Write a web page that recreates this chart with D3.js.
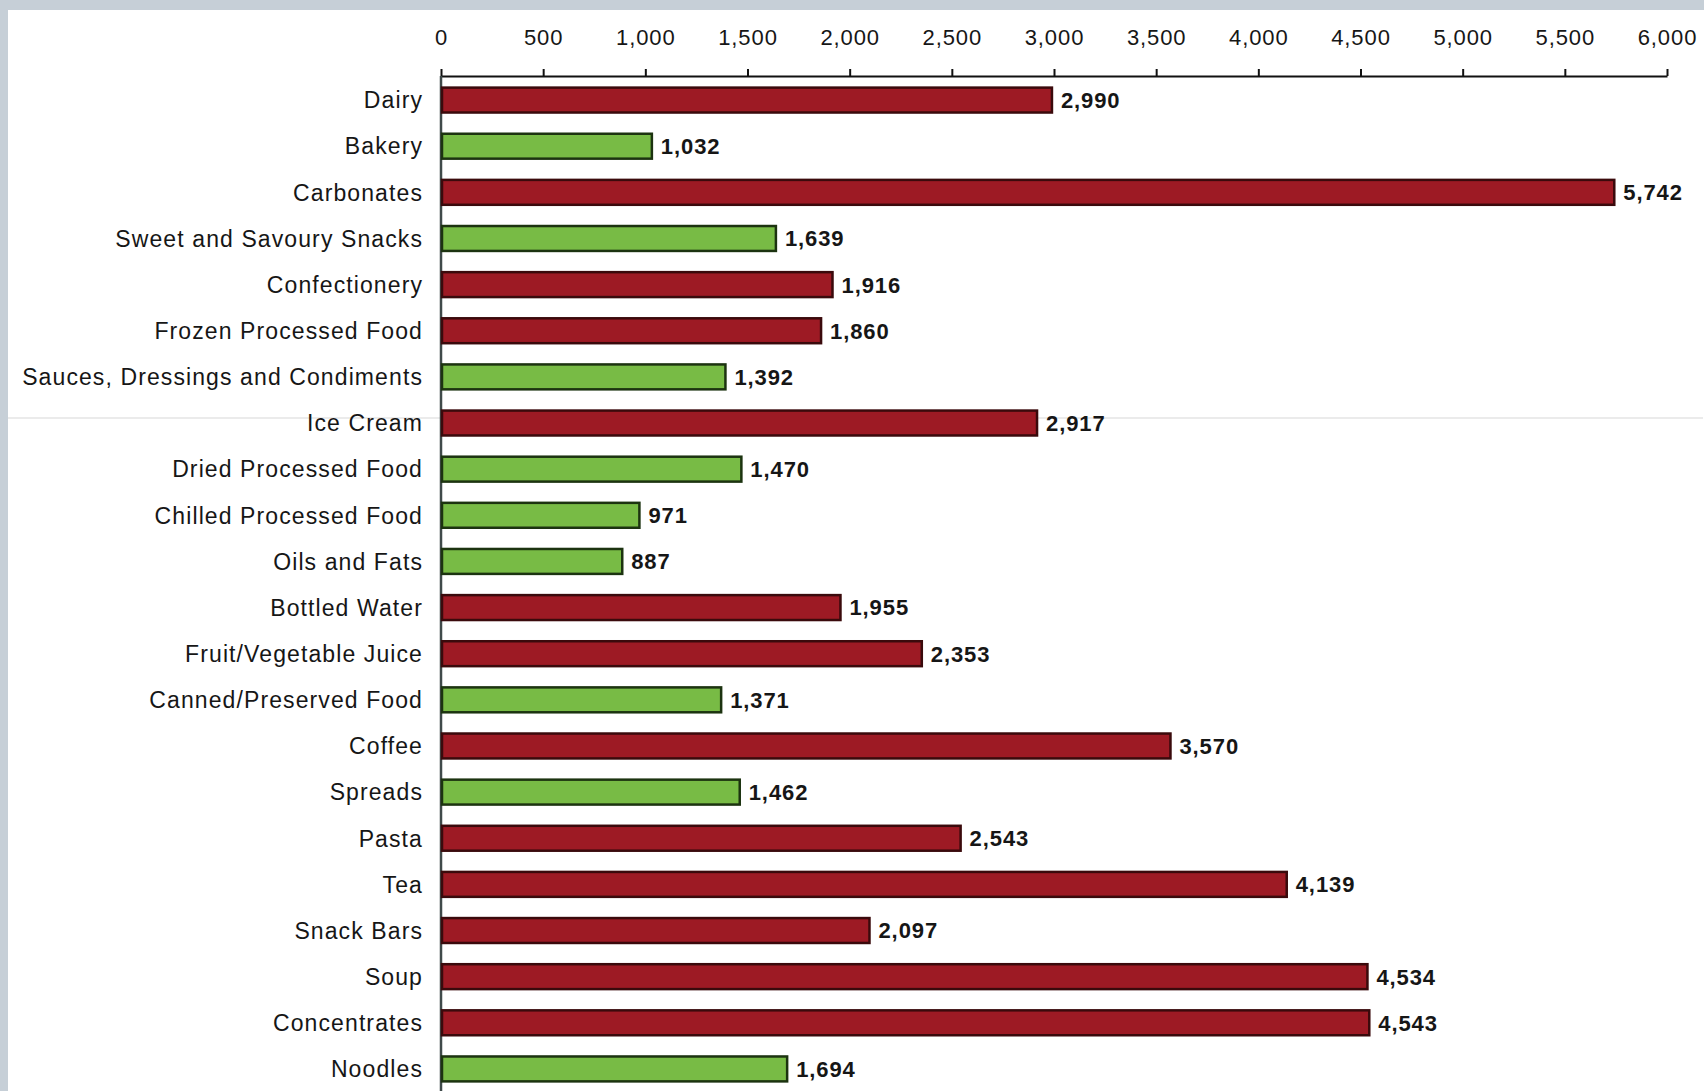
<!DOCTYPE html>
<html>
<head>
<meta charset="utf-8">
<script src="https://cdn.jsdelivr.net/npm/d3@7"></script>
<style>
  html, body { margin: 0; padding: 0; background: #c6cfd7; }
  svg { display: block; }
  text { font-family: "Liberation Sans", Arial, sans-serif; fill: #161616; }
</style>
</head>
<body>
<svg id="chart" width="1704" height="1091"></svg>
<script>
const categories = ["Dairy", "Bakery", "Carbonates", "Sweet and Savoury Snacks", "Confectionery",
  "Frozen Processed Food", "Sauces, Dressings and Condiments", "Ice Cream", "Dried Processed Food",
  "Chilled Processed Food", "Oils and Fats", "Bottled Water", "Fruit/Vegetable Juice",
  "Canned/Preserved Food", "Coffee", "Spreads", "Pasta", "Tea", "Snack Bars", "Soup",
  "Concentrates", "Noodles"];
const values = [2990, 1032, 5742, 1639, 1916, 1860, 1392, 2917, 1470, 971, 887, 1955, 2353,
  1371, 3570, 1462, 2543, 4139, 2097, 4534, 4543, 1694];
const groups = ["red", "green", "red", "green", "red", "red", "green", "red", "green", "green",
  "green", "red", "red", "green", "red", "green", "red", "red", "red", "red", "red", "green"];
const tickValues = [0, 500, 1000, 1500, 2000, 2500, 3000, 3500, 4000, 4500, 5000, 5500, 6000];

const fillColor = { red: "#9d1a24", green: "#78bb45" };
const strokeColor = { red: "#3a0a0c", green: "#1c3310" };

const svg = d3.select("#chart");
// white panel
svg.append("rect").attr("x", 8).attr("y", 10).attr("width", 1696).attr("height", 1081).attr("fill", "#ffffff");

const x = d3.scaleLinear().domain([0, 6000]).range([441, 1667]);
const y = d3.scaleBand().domain(categories).range([77, 1092]).paddingInner(0.46).paddingOuter(0.23);

// faint separator line
svg.append("line").attr("x1", 8).attr("x2", 1703).attr("y1", 418).attr("y2", 418)
  .attr("stroke", "#e4e4e4").attr("stroke-width", 1.5);

// top axis
const axis = d3.axisTop(x).tickValues(tickValues).tickSize(7).tickSizeOuter(0).tickPadding(24)
  .tickFormat(d3.format(","));
const ax = svg.append("g").attr("transform", "translate(0,76)").call(axis);
ax.select(".domain").attr("stroke", "#111").attr("stroke-width", 2);
ax.selectAll(".tick line").attr("stroke", "#111").attr("stroke-width", 2);
ax.selectAll(".tick text").attr("font-size", 22).attr("letter-spacing", 0.9)
  .attr("font-family", "'Liberation Sans', Arial, sans-serif").attr("fill", "#1a1a1a");

// vertical axis line
svg.append("line").attr("x1", x(0)).attr("x2", x(0)).attr("y1", 76).attr("y2", 1091)
  .attr("stroke", "#3f4a4a").attr("stroke-width", 2.5);

const data = categories.map((c, i) => ({ c, v: values[i], g: groups[i] }));

// bars
svg.append("g").selectAll("rect").data(data).join("rect")
  .attr("x", x(0) + 1)
  .attr("y", d => y(d.c))
  .attr("width", d => x(d.v) - x(0) - 1)
  .attr("height", y.bandwidth())
  .attr("fill", d => fillColor[d.g])
  .attr("stroke", d => strokeColor[d.g])
  .attr("stroke-width", 2.5);

// category labels
svg.append("g").selectAll("text").data(data).join("text")
  .attr("x", 423)
  .attr("y", d => y(d.c) + y.bandwidth() / 2)
  .attr("dy", "0.36em")
  .attr("text-anchor", "end")
  .attr("font-size", 23)
  .attr("letter-spacing", 1.1)
  .text(d => d.c);

// value labels
svg.append("g").selectAll("text").data(data).join("text")
  .attr("x", d => x(d.v) + 9)
  .attr("y", d => y(d.c) + y.bandwidth() / 2)
  .attr("dy", "0.36em")
  .attr("font-size", 22)
  .attr("font-weight", "bold")
  .attr("letter-spacing", 0.9)
  .text(d => d3.format(",")(d.v));
</script>
</body>
</html>
